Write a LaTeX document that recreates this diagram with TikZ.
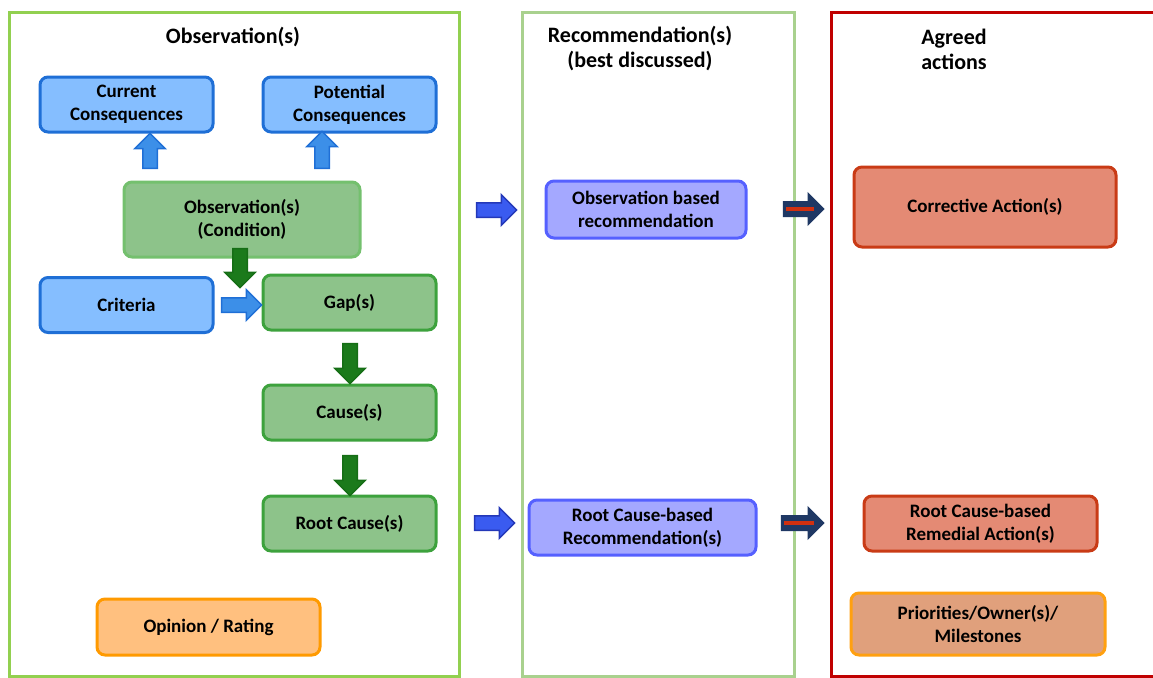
\documentclass[tikz,border=0pt]{standalone}
\usepackage{fontspec}
\setmainfont{Carlito}
\usepackage{tikz}
\usetikzlibrary{calc, positioning, shapes.arrows}
\definecolor{panelgreen}{HTML}{92D050}
\definecolor{panelpale}{HTML}{A9D18E}
\definecolor{panelred}{HTML}{C00000}
\definecolor{boxblue}{HTML}{85BEFF}
\definecolor{edgeblue}{HTML}{1F6FD6}
\definecolor{boxgreen}{HTML}{8DC38A}
\definecolor{edgegreen}{HTML}{3DA23D}
\definecolor{edgelight}{HTML}{74C06E}
\definecolor{boxorange}{HTML}{FFC07F}
\definecolor{edgeorange}{HTML}{FF9A00}
\definecolor{boxviolet}{HTML}{A4A8FF}
\definecolor{edgeviolet}{HTML}{5560FF}
\definecolor{boxred}{HTML}{E48A74}
\definecolor{edgered}{HTML}{C93B16}
\definecolor{boxtan}{HTML}{E0A07C}
\definecolor{edgetan}{HTML}{FFA010}
\definecolor{arrowblue}{HTML}{3C8FE8}
\definecolor{arrowgreen}{HTML}{1B7A1B}
\definecolor{edgearrowgreen}{HTML}{166E16}
\definecolor{linkblue}{HTML}{3A5BF0}
\definecolor{edgelink}{HTML}{2438B8}
\definecolor{navy}{HTML}{1F3864}
\definecolor{stripered}{HTML}{D03010}
\tikzset{
	node distance = 52pt,
	font = \bfseries\fontsize{19}{23}\selectfont,
	panel/.style={
		line width=3pt
	},
	title/.style={
		align=center,
		font=\bfseries\fontsize{22}{25}\selectfont
	},
	box/.style={
		draw,
		rounded corners=8pt,
		line width=3pt,
		align=center,
		inner sep=2pt,
		minimum width=173pt,
		minimum height=55pt
	},
	bluebox/.style={box, fill=boxblue, draw=edgeblue},
	greenbox/.style={box, fill=boxgreen, draw=edgegreen},
	orangebox/.style={box, fill=boxorange, draw=edgeorange},
	violetbox/.style={box, fill=boxviolet, draw=edgeviolet},
	redbox/.style={box, fill=boxred, draw=edgered},
	tanbox/.style={box, fill=boxtan, draw=edgetan},
	fatarrow/.style={
		single arrow,
		inner xsep=0pt,
		inner ysep=6.5pt,
		single arrow head extend=8pt,
		minimum width=0pt,
		line width=1.5pt
	},
	bluearrow/.style={fatarrow, fill=arrowblue, draw=edgeblue},
	greenarrow/.style={fatarrow, fill=arrowgreen, draw=edgearrowgreen},
	linkarrow/.style={fatarrow, fill=linkblue, draw=edgelink},
	navyarrow/.style={fatarrow, fill=navy, draw=navy},
	stripe/.style={
		line width=3.5pt,
		draw=stripered
	}
}
\begin{document}
\begin{tikzpicture}[x=1pt, y=-1pt]
	\useasboundingbox (0,0) rectangle (1153,677);

	% panels
	\draw[panel, draw=panelgreen] (9,13) rectangle (459,676);
	\draw[panel, draw=panelpale] (522,13) rectangle (794,676);
	\draw[panel, draw=panelred] (831,13) rectangle (1170,676);

	\node[title] at (233,37) (tobs) {Observation(s)};
	\node[title] at (640,49) (trec) {Recommendation(s)\\(best discussed)};
	\node[title] at (954,49) (tact) {Agreed\\actions};

	% observation column
	\node[bluebox] at (126.5,104.5) (cur) {Current\\Consequences};
	\node[bluebox, right=47pt of cur] (pot) {Potential\\Consequences};
	\node[greenbox, draw=edgelight, minimum width=236pt, minimum height=75pt] at (242,219.5) (obs) {Observation(s)\\(Condition)};
	\node[greenbox] at (349.5,302.5) (gap) {Gap(s)};
	\node[bluebox, left=47pt of gap, yshift=-2.5pt] (crit) {Criteria};
	\node[greenbox, below=52pt of gap] (cause) {Cause(s)};
	\node[greenbox, below=53pt of cause] (root) {Root Cause(s)};
	\node[orangebox, minimum width=223pt, minimum height=56pt] at (208.5,627) (opin) {Opinion / Rating};

	% recommendation column
	\node[violetbox, minimum width=200pt, minimum height=57pt] at (646,209.5) (orec) {Observation based\\recommendation};
	\node[violetbox, minimum width=227pt] at (642.5,527.5) (rrec) {Root Cause-based\\Recommendation(s)};

	% action column
	\node[redbox, minimum width=262pt, minimum height=80pt] at (985,207) (corr) {Corrective Action(s)};
	\node[redbox, minimum width=233pt] at (980.5,523.5) (rem) {Root Cause-based\\Remedial Action(s)};
	\node[tanbox, minimum width=254pt, minimum height=62pt] at (978,624) (prio) {Priorities/Owner(s)/\\Milestones};

	% block arrows
	\node[bluearrow, rotate=90, minimum height=35pt] at (150,154.5) (up1) {};
	\node[bluearrow, rotate=90, minimum height=37pt] at (322,153.5) (up2) {};
	\node[greenarrow, rotate=-90, minimum height=39pt] at (240,264.5) (dn1) {};
	\node[bluearrow, minimum height=40pt] at (238,305) (ra1) {};
	\node[greenarrow, rotate=-90, minimum height=40pt] at (350,360) (dn2) {};
	\node[greenarrow, rotate=-90, minimum height=40pt] at (350,472) (dn3) {};
	\node[linkarrow, minimum height=40pt] at (493,210) (ra2) {};
	\node[linkarrow, minimum height=40pt] at (491,523) (ra3) {};
	\node[navyarrow, minimum height=40pt] at (800,209) (na1) {};
	\node[navyarrow, minimum height=42pt] at (799,523) (na2) {};
	\draw[stripe] ([xshift=3pt]na1.tail) -- ([xshift=-11pt]na1.tip);
	\draw[stripe] ([xshift=3pt]na2.tail) -- ([xshift=-11pt]na2.tip);
\end{tikzpicture}
\end{document}
